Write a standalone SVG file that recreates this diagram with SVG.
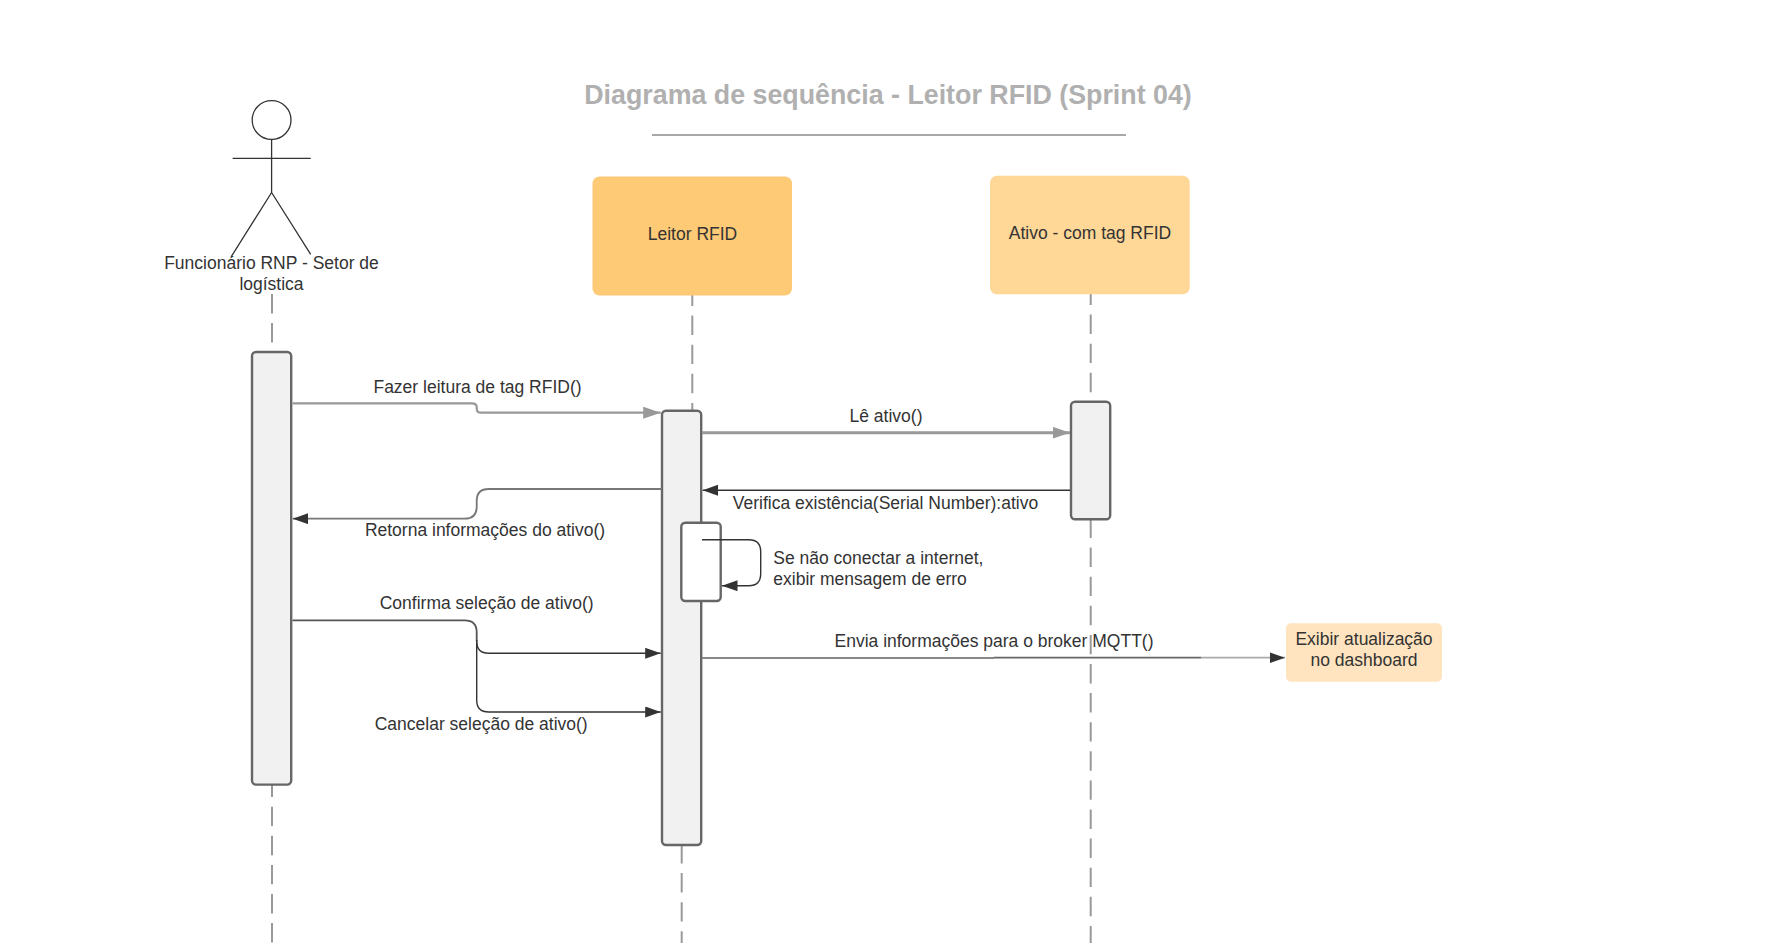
<svg xmlns="http://www.w3.org/2000/svg" width="1770" height="943" viewBox="0 0 1770 943">
<style>
text{font-family:"Liberation Sans",Arial,sans-serif;font-size:17.5px;fill:#333;text-anchor:middle}
.l{text-anchor:start}
.title{font-weight:bold;font-size:26.8px;fill:#b0b0b0}
.act{fill:#f1f1f1;stroke:#666;stroke-width:2.4}
.life{fill:none;stroke:#999;stroke-width:2;stroke-dasharray:19.4 9.7}
.stick{fill:none;stroke:#333;stroke-width:1.3}
.g{fill:none;stroke:#999;stroke-width:2.2}
.d{fill:none;stroke:#333;stroke-width:1.4}
.m{fill:none;stroke:#777;stroke-width:1.8}
</style>
<defs>
<marker id="ag" markerUnits="userSpaceOnUse" markerWidth="18" markerHeight="12" refX="17.5" refY="6" orient="auto"><path d="M0 0L17.5 6L0 12z" fill="#999"/></marker>
<marker id="ad" markerUnits="userSpaceOnUse" markerWidth="16" markerHeight="12" refX="15.5" refY="5.5" orient="auto"><path d="M0 0L15.5 5.5L0 11z" fill="#333"/></marker>
</defs>
<rect width="1770" height="943" fill="#fff"/>
<g id="title">
<text class="title" x="888" y="103.5">Diagrama de sequência - Leitor RFID (Sprint 04)</text>
<line x1="652" y1="135" x2="1126" y2="135" stroke="#a8a8a8" stroke-width="2"/>
</g>
<g id="lifelines">
<line class="life" x1="272" y1="294" x2="272" y2="352"/>
<line class="life" x1="272" y1="777.6" x2="272" y2="943"/>
<line class="life" x1="692.3" y1="286.5" x2="692.3" y2="411"/>
<line class="life" x1="681.7" y1="844" x2="681.7" y2="943"/>
<line class="life" x1="1090.7" y1="285.5" x2="1090.7" y2="402"/>
<line class="life" x1="1090.7" y1="518.5" x2="1090.7" y2="943"/>
</g>
<g id="actor-funcionario">
<circle class="stick" cx="271.6" cy="120" r="19.4"/>
<path class="stick" d="M271.6 139.4V192.5M232.6 158.3H310.7M271.6 192.5L231 257M271.6 192.5L310.7 254.3"/>
<text x="271.5" y="269.3">Funcionário RNP - Setor de</text>
<text x="271.5" y="290.3">logística</text>
</g>
<g id="node-leitor">
<rect x="592.5" y="176.5" width="199.5" height="119" rx="7" fill="#ffca76"/>
<text x="692.5" y="240">Leitor RFID</text>
</g>
<g id="node-ativo">
<rect x="990" y="175.7" width="199.7" height="118.6" rx="7" fill="#ffd797"/>
<text x="1090" y="239">Ativo - com tag RFID</text>
</g>
<g id="activation-funcionario"><rect class="act" x="252" y="352" width="39.2" height="432.6" rx="4"/></g>
<g id="activation-leitor"><rect class="act" x="662" y="410.8" width="39.2" height="434.2" rx="4"/></g>
<g id="activation-ativo"><rect class="act" x="1071" y="401.8" width="39.2" height="117.4" rx="4"/></g>
<g id="activation-self"><rect class="act" style="fill:#fff" x="681.3" y="522.8" width="39.4" height="78.2" rx="4"/></g>
<g id="node-dashboard">
<rect x="1286" y="623.3" width="156" height="58.4" rx="5" fill="#ffe4bf"/>
<text x="1364" y="645">Exibir atualização</text>
<text x="1364" y="666">no dashboard</text>
</g>
<g id="connectors">
<path class="g" marker-end="url(#ag)" d="M292.5 403.3H472Q476.7 403.3 476.7 407V408.5Q476.7 412.7 481 412.7H660.7"/>
<text x="477.5" y="392.6">Fazer leitura de tag RFID()</text>
<path class="g" style="stroke-width:3" marker-end="url(#ag)" d="M702 432.7H1070"/>
<text x="886" y="421.5">Lê ativo()</text>
<path class="d" marker-end="url(#ad)" d="M1070 490.3H702.7"/>
<text x="885.5" y="508.7">Verifica existência(Serial Number):ativo</text>
<path class="m" marker-end="url(#ad)" d="M662 489H488.7Q476.7 489 476.7 501V506.7Q476.7 518.7 464.7 518.7H292.7"/>
<text x="485" y="535.8">Retorna informações do ativo()</text>
<path class="d" marker-end="url(#ad)" d="M702 539.7H748.7Q760.7 539.7 760.7 551.7V573.7Q760.7 585.7 748.7 585.7H722"/>
<text class="l" x="773.3" y="564.3">Se não conectar a internet,</text>
<text class="l" x="773.3" y="585.3">exibir mensagem de erro</text>
<path class="m" style="stroke:#555" d="M292.5 620.3H464.7Q476.7 620.3 476.7 632.3V641"/>
<path class="d" marker-end="url(#ad)" d="M476.7 641.3Q476.7 653.3 488.7 653.3H660.7"/>
<path class="d" marker-end="url(#ad)" d="M476.7 640V700Q476.7 712 488.7 712H660.7"/>
<text x="486.7" y="609">Confirma seleção de ativo()</text>
<text x="481.2" y="730">Cancelar seleção de ativo()</text>
<path class="m" style="stroke:#888" d="M702 658H994"/>
<path class="m" style="stroke:#666" d="M994 657.7H1201"/>
<path fill="none" stroke="#aaa" stroke-width="1.8" marker-end="url(#ad)" d="M1201 657.7H1285"/>
<text x="994" y="646.5">Envia informações para o broker MQTT()</text>
</g>
</svg>
